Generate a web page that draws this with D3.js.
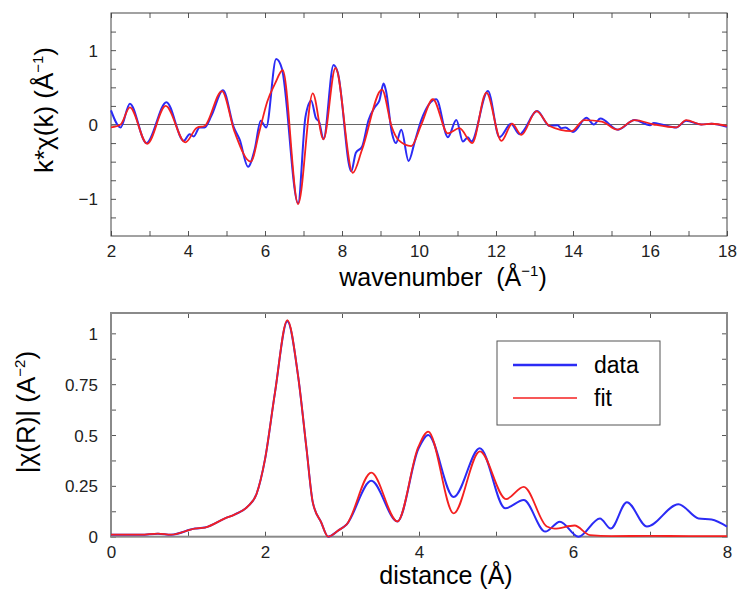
<!DOCTYPE html>
<html>
<head>
<meta charset="utf-8">
<script src="https://cdn.jsdelivr.net/npm/d3@7"></script>
<style>
  body { margin: 0; background: #fff; }
  svg { font-family: "Liberation Sans", Arial, sans-serif; }
</style>
</head>
<body>
<script>
// EXAFS data
// top panel: k-weighted chi(k)
const kData = [2.0, 2.25, 2.49, 2.92, 3.44, 3.89, 4.04, 4.15, 4.30, 4.43, 4.61, 4.91, 5.19, 5.34, 5.56, 5.73, 5.89, 6.03, 6.29, 6.44, 6.86, 7.05, 7.20, 7.32, 7.41, 7.52, 7.78, 7.89, 8.24, 8.36, 8.52, 8.69, 8.86, 8.97, 9.08, 9.14, 9.30, 9.40, 9.54, 9.73, 9.89, 10.06, 10.45, 10.75, 10.97, 11.14, 11.27, 11.36, 11.79, 12.09, 12.39, 12.61, 13.07, 13.39, 13.6, 13.69, 13.8, 14.0, 14.35, 14.54, 14.71, 15.17, 15.6, 16.0, 16.1, 16.3, 16.68, 16.94, 17.33, 17.6, 18.0];
const chiData = [0.19, -0.04, 0.28, -0.25, 0.30, -0.22, -0.13, -0.16, -0.04, -0.04, 0.12, 0.46, -0.04, -0.20, -0.57, -0.34, 0.05, -0.04, 0.88, 0.75, -1.06, 0.10, 0.32, 0.09, 0.03, -0.20, 0.80, 0.70, -0.63, -0.38, -0.30, 0.06, 0.24, 0.32, 0.55, 0.46, -0.12, -0.25, -0.07, -0.49, -0.23, 0.06, 0.34, -0.17, 0.06, -0.23, -0.17, -0.23, 0.45, -0.17, 0.01, -0.13, 0.18, -0.02, -0.01, -0.05, -0.04, -0.10, 0.09, 0.0, 0.08, -0.07, 0.06, -0.01, 0.02, 0.0, -0.04, 0.05, 0.0, 0.01, -0.03];
const kFit = [2.0, 2.25, 2.49, 2.94, 3.42, 3.93, 4.24, 4.43, 4.88, 5.21, 5.63, 5.86, 6.06, 6.26, 6.46, 6.86, 7.24, 7.52, 7.83, 8.28, 8.52, 9.04, 9.29, 9.47, 9.80, 10.06, 10.36, 10.75, 11.05, 11.38, 11.75, 12.14, 12.42, 12.66, 13.05, 13.39, 13.96, 14.29, 14.75, 15.15, 15.6, 16.1, 16.68, 16.94, 17.33, 17.6, 18.0];
const chiFit = [-0.04, 0.0, 0.23, -0.26, 0.25, -0.24, -0.04, -0.02, 0.45, -0.10, -0.50, -0.08, 0.31, 0.55, 0.73, -1.07, 0.42, -0.20, 0.76, -0.65, -0.34, 0.47, -0.03, -0.21, -0.29, 0.0, 0.34, -0.12, -0.05, -0.25, 0.43, -0.22, 0.01, -0.14, 0.18, -0.02, -0.09, 0.06, 0.04, -0.07, 0.06, 0.0, -0.04, 0.06, 0.0, 0.01, -0.02];

// bottom panel: |chi(R)|
const rData = [0, 0.39, 0.61, 0.78, 1.09, 1.22, 1.48, 1.61, 1.78, 1.89, 2.0, 2.13, 2.29, 2.43, 2.54, 2.62, 2.73, 2.82, 2.95, 3.06, 3.38, 3.72, 3.99, 4.12, 4.45, 4.79, 5.12, 5.36, 5.64, 5.83, 6.07, 6.35, 6.49, 6.70, 6.96, 7.37, 7.63, 7.8, 8.0];
const magData = [0.01, 0.01, 0.015, 0.01, 0.04, 0.045, 0.09, 0.11, 0.15, 0.21, 0.38, 0.71, 1.06, 0.79, 0.43, 0.17, 0.07, 0.0, 0.03, 0.06, 0.275, 0.075, 0.43, 0.50, 0.195, 0.435, 0.14, 0.18, 0.025, 0.074, 0.0, 0.09, 0.04, 0.17, 0.05, 0.16, 0.09, 0.085, 0.05];
const rFit = [0, 0.39, 0.61, 0.78, 1.09, 1.22, 1.48, 1.61, 1.78, 1.89, 2.0, 2.13, 2.29, 2.43, 2.54, 2.62, 2.73, 2.82, 2.95, 3.06, 3.38, 3.72, 3.99, 4.12, 4.45, 4.79, 5.13, 5.36, 5.66, 5.76, 6.02, 6.22, 6.5, 7.0, 7.5, 8.0];
const magFit = [0.01, 0.01, 0.015, 0.01, 0.04, 0.045, 0.09, 0.11, 0.15, 0.21, 0.38, 0.71, 1.065, 0.79, 0.43, 0.17, 0.07, 0.0, 0.03, 0.06, 0.315, 0.075, 0.44, 0.517, 0.115, 0.42, 0.185, 0.245, 0.05, 0.04, 0.055, 0.008, 0.003, 0.004, 0.003, 0.003];

const seriesNames = ["data", "fit"];
const colors = { data: "#2b2bf5", fit: "#f42020" };

const W = 738, H = 590;
const left = 111, right = 727;

const svg = d3.select("body").append("svg")
  .attr("width", W)
  .attr("height", H);

// draws one framed panel with inside ticks on all four sides
function panel(top, bottom, xDom, yDom, xMajor, xMinor, yMajor, yMinor, frameColor, frameWidth) {
  const x = d3.scaleLinear().domain(xDom).range([left, right]);
  const y = d3.scaleLinear().domain(yDom).range([bottom, top]);
  const g = svg.append("g");

  const fmt = (d) => d3.format("")(d).replace("-", "\u2212");
  const tickStyle = (s) => {
    s.select(".domain").remove();
    s.selectAll(".tick line").attr("stroke", "#555").attr("stroke-width", 1);
    s.selectAll(".tick text").attr("fill", "#222").style("font-size", "17px");
  };

  g.append("g").attr("transform", `translate(0,${bottom})`)
    .call(d3.axisBottom(x).tickValues(xMajor).tickSize(-5).tickPadding(9).tickFormat(fmt))
    .call(tickStyle);
  g.append("g").attr("transform", `translate(0,${bottom})`)
    .call(d3.axisBottom(x).tickValues(xMinor).tickSize(-5).tickFormat(""))
    .call(tickStyle);
  g.append("g").attr("transform", `translate(0,${top})`)
    .call(d3.axisTop(x).tickValues(xMajor.concat(xMinor)).tickSize(-5).tickFormat(""))
    .call(tickStyle);
  g.append("g").attr("transform", `translate(${left},0)`)
    .call(d3.axisLeft(y).tickValues(yMajor).tickSize(-5).tickPadding(13).tickFormat(fmt))
    .call(tickStyle)
    .selectAll(".tick text").attr("dy", "0.36em");
  g.append("g").attr("transform", `translate(${left},0)`)
    .call(d3.axisLeft(y).tickValues(yMinor).tickSize(-5).tickFormat(""))
    .call(tickStyle);
  g.append("g").attr("transform", `translate(${right},0)`)
    .call(d3.axisRight(y).tickValues(yMajor.concat(yMinor)).tickSize(-5).tickFormat(""))
    .call(tickStyle);

  g.append("rect")
    .attr("x", left).attr("y", top)
    .attr("width", right - left).attr("height", bottom - top)
    .attr("fill", "none")
    .attr("stroke", frameColor)
    .attr("stroke-width", frameWidth);

  return { x, y, g };
}

function drawLine(p, xs, ys, name, width) {
  const line = d3.line()
    .x((d) => p.x(d[0]))
    .y((d) => p.y(d[1]))
    .curve(d3.curveMonotoneX);
  p.g.append("path")
    .datum(d3.zip(xs, ys))
    .attr("d", line)
    .attr("fill", "none")
    .attr("stroke", colors[name])
    .attr("stroke-width", width)
    .attr("stroke-linejoin", "round");
}

// ---- top panel: chi(k)
const p1 = panel(13, 236, [2, 18], [-1.5, 1.5],
  d3.range(2, 19, 2), d3.range(3, 18, 2),
  [-1, 0, 1], [-1.25, -0.75, -0.5, -0.25, 0.25, 0.5, 0.75, 1.25],
  "#444", 1);

p1.g.append("line")
  .attr("x1", left).attr("x2", right)
  .attr("y1", p1.y(0)).attr("y2", p1.y(0))
  .attr("stroke", "#666").attr("stroke-width", 1.2);

drawLine(p1, kData, chiData, "data", 2);
drawLine(p1, kFit, chiFit, "fit", 1.8);

const t1 = svg.append("text")
  .attr("x", 443).attr("y", 286)
  .attr("text-anchor", "middle")
  .style("white-space", "pre")
  .style("font-size", "25px");
t1.append("tspan").text("wavenumber  (Å");
t1.append("tspan").attr("dy", -10).style("font-size", "15px").text("\u22121");
t1.append("tspan").attr("dy", 10).text(")");

const yt1 = svg.append("text")
  .attr("transform", "translate(53,110) rotate(-90)")
  .attr("text-anchor", "middle")
  .style("font-size", "26px");
yt1.append("tspan").text("k*χ(k) (Å");
yt1.append("tspan").attr("dy", -10).style("font-size", "15px").text("\u22121");
yt1.append("tspan").attr("dy", 10).text(")");

// ---- bottom panel: |chi(R)|
const p2 = panel(313, 536.7, [0, 8], [0, 1.1],
  [0, 2, 4, 6, 8], [1, 3, 5, 7],
  [0, 0.25, 0.5, 0.75, 1], [0.125, 0.375, 0.625, 0.875],
  "#8a8a8a", 2);

drawLine(p2, rData, magData, "data", 2);
drawLine(p2, rFit, magFit, "fit", 1.8);

svg.append("text")
  .attr("x", 446).attr("y", 584)
  .attr("text-anchor", "middle")
  .style("font-size", "25px")
  .text("distance (Å)");

const yt2 = svg.append("text")
  .attr("transform", "translate(35,412) rotate(-90)")
  .attr("text-anchor", "middle")
  .style("font-size", "26px");
yt2.append("tspan").text("|χ(R)| (A");
yt2.append("tspan").attr("dy", -10).style("font-size", "15px").text("\u22122");
yt2.append("tspan").attr("dy", 10).text(")");

// ---- legend
const legend = svg.append("g");
legend.append("rect")
  .attr("x", 497).attr("y", 341)
  .attr("width", 163).attr("height", 84)
  .attr("fill", "#fff")
  .attr("stroke", "#555").attr("stroke-width", 1);

legend.selectAll("g.item")
  .data(seriesNames)
  .join("g")
  .attr("class", "item")
  .attr("transform", (d, i) => `translate(0,${365 + i * 33})`)
  .each(function (d, i) {
    const it = d3.select(this);
    it.append("line")
      .attr("x1", 513).attr("x2", 577)
      .attr("stroke", colors[d])
      .attr("stroke-width", i === 0 ? 2.5 : 1.5);
    it.append("text")
      .attr("x", 594).attr("y", 8)
      .style("font-size", "23px")
      .text(d);
  });
</script>
</body>
</html>
